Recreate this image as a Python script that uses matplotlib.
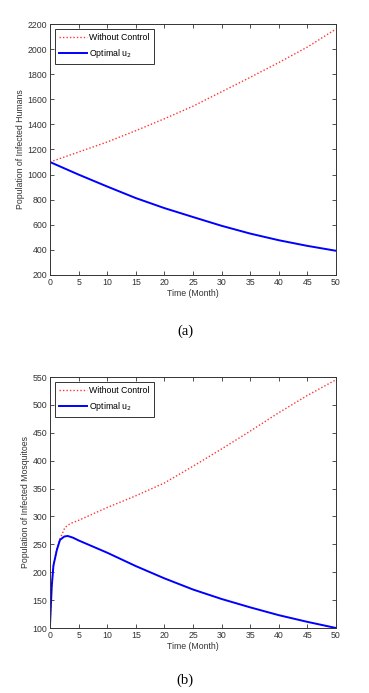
import matplotlib
matplotlib.use("Agg")
import matplotlib.pyplot as plt

# Panel (a): infected humans
t_a = [0, 5, 10, 15, 20, 25, 30, 35, 40, 45, 50]
humans_no_control = [1100, 1180, 1260, 1350, 1445, 1545, 1660, 1775, 1893, 2016, 2160]
humans_optimal = [1100, 1000, 905, 813, 733, 662, 592, 530, 477, 432, 393]

# Panel (b): infected mosquitoes
t_b_nc = [0, 0.3, 0.6, 1.2, 1.75, 2.6, 3.5, 5, 10, 15, 20, 25, 30, 35, 40, 45, 50]
mosq_no_control = [105, 174, 212, 242, 260, 280, 287, 293, 316, 337, 360, 390, 421, 453, 486, 517, 545]
t_b_opt = [0, 0.3, 0.6, 1.2, 1.75, 2.5, 3.1, 4, 5, 7.5, 10, 15, 20, 25, 30, 35, 40, 45, 50]
mosq_optimal = [105, 174, 212, 240, 258, 264, 265, 262, 257, 246, 235, 211, 189, 169, 152, 137, 123, 111, 100]

xticks = [0, 5, 10, 15, 20, 25, 30, 35, 40, 45, 50]
yticks_a = [200, 400, 600, 800, 1000, 1200, 1400, 1600, 1800, 2000, 2200]
yticks_b = [100, 150, 200, 250, 300, 350, 400, 450, 500, 550]

W, H = 369, 693
fig = plt.figure(figsize=(W / 100, H / 100), dpi=100)
fig.patch.set_facecolor("white")

fs = 6.3
sans = ["Liberation Sans", "DejaVu Sans"]

def style(ax, yticks, ylabel):
    ax.set_xlim(0, 50)
    ax.set_ylim(yticks[0], yticks[-1])
    ax.set_xticks(xticks)
    ax.set_yticks(yticks)
    ax.tick_params(direction="in", length=3, width=0.6, top=True, right=True,
                   labelsize=fs, pad=2, colors="#333333")
    for lab in ax.get_xticklabels() + ax.get_yticklabels():
        lab.set_family(sans)
    for s in ax.spines.values():
        s.set_linewidth(0.7)
        s.set_color("#333333")
    ax.set_xlabel("Time (Month)", fontsize=fs, family=sans, labelpad=1.5, color="#333333")
    ax.set_ylabel(ylabel, fontsize=fs, family=sans, labelpad=2, color="#333333")
    leg = ax.legend(loc="upper left", prop={"family": sans, "size": fs},
                    fancybox=False, edgecolor="#333333", framealpha=1,
                    handlelength=3.2, handletextpad=0.3, borderpad=0.45,
                    labelspacing=0.55, borderaxespad=0.55)
    leg.get_frame().set_linewidth(0.7)

# top panel
ax1 = fig.add_axes([50 / W, 1 - 275 / H, 286 / W, 251 / H])
ax1.plot(t_a, humans_no_control, color="#ff3333", linestyle=(0, (1, 1.5)), linewidth=1.0,
         label="Without Control")
ax1.plot(t_a, humans_optimal, color="#0000ff", linewidth=1.4, label="Optimal u$_2$")
style(ax1, yticks_a, "Population of Infected Humans")

# bottom panel
ax2 = fig.add_axes([50 / W, 1 - 628 / H, 286 / W, 251 / H])
ax2.plot(t_b_nc, mosq_no_control, color="#ff3333", linestyle=(0, (1, 1.5)), linewidth=1.0,
         label="Without Control")
ax2.plot(t_b_opt, mosq_optimal, color="#0000ff", linewidth=1.4, label="Optimal u$_2$")
style(ax2, yticks_b, "Population of Infected Mosquitoes")

serif = ["Liberation Serif", "DejaVu Serif"]
fig.text(185 / W, 1 - 331 / H, "(a)", ha="center", va="center", fontsize=10.5, family=serif)
fig.text(185 / W, 1 - 680 / H, "(b)", ha="center", va="center", fontsize=10.5, family=serif)

fig.savefig("out.png", dpi=100, facecolor="white")
